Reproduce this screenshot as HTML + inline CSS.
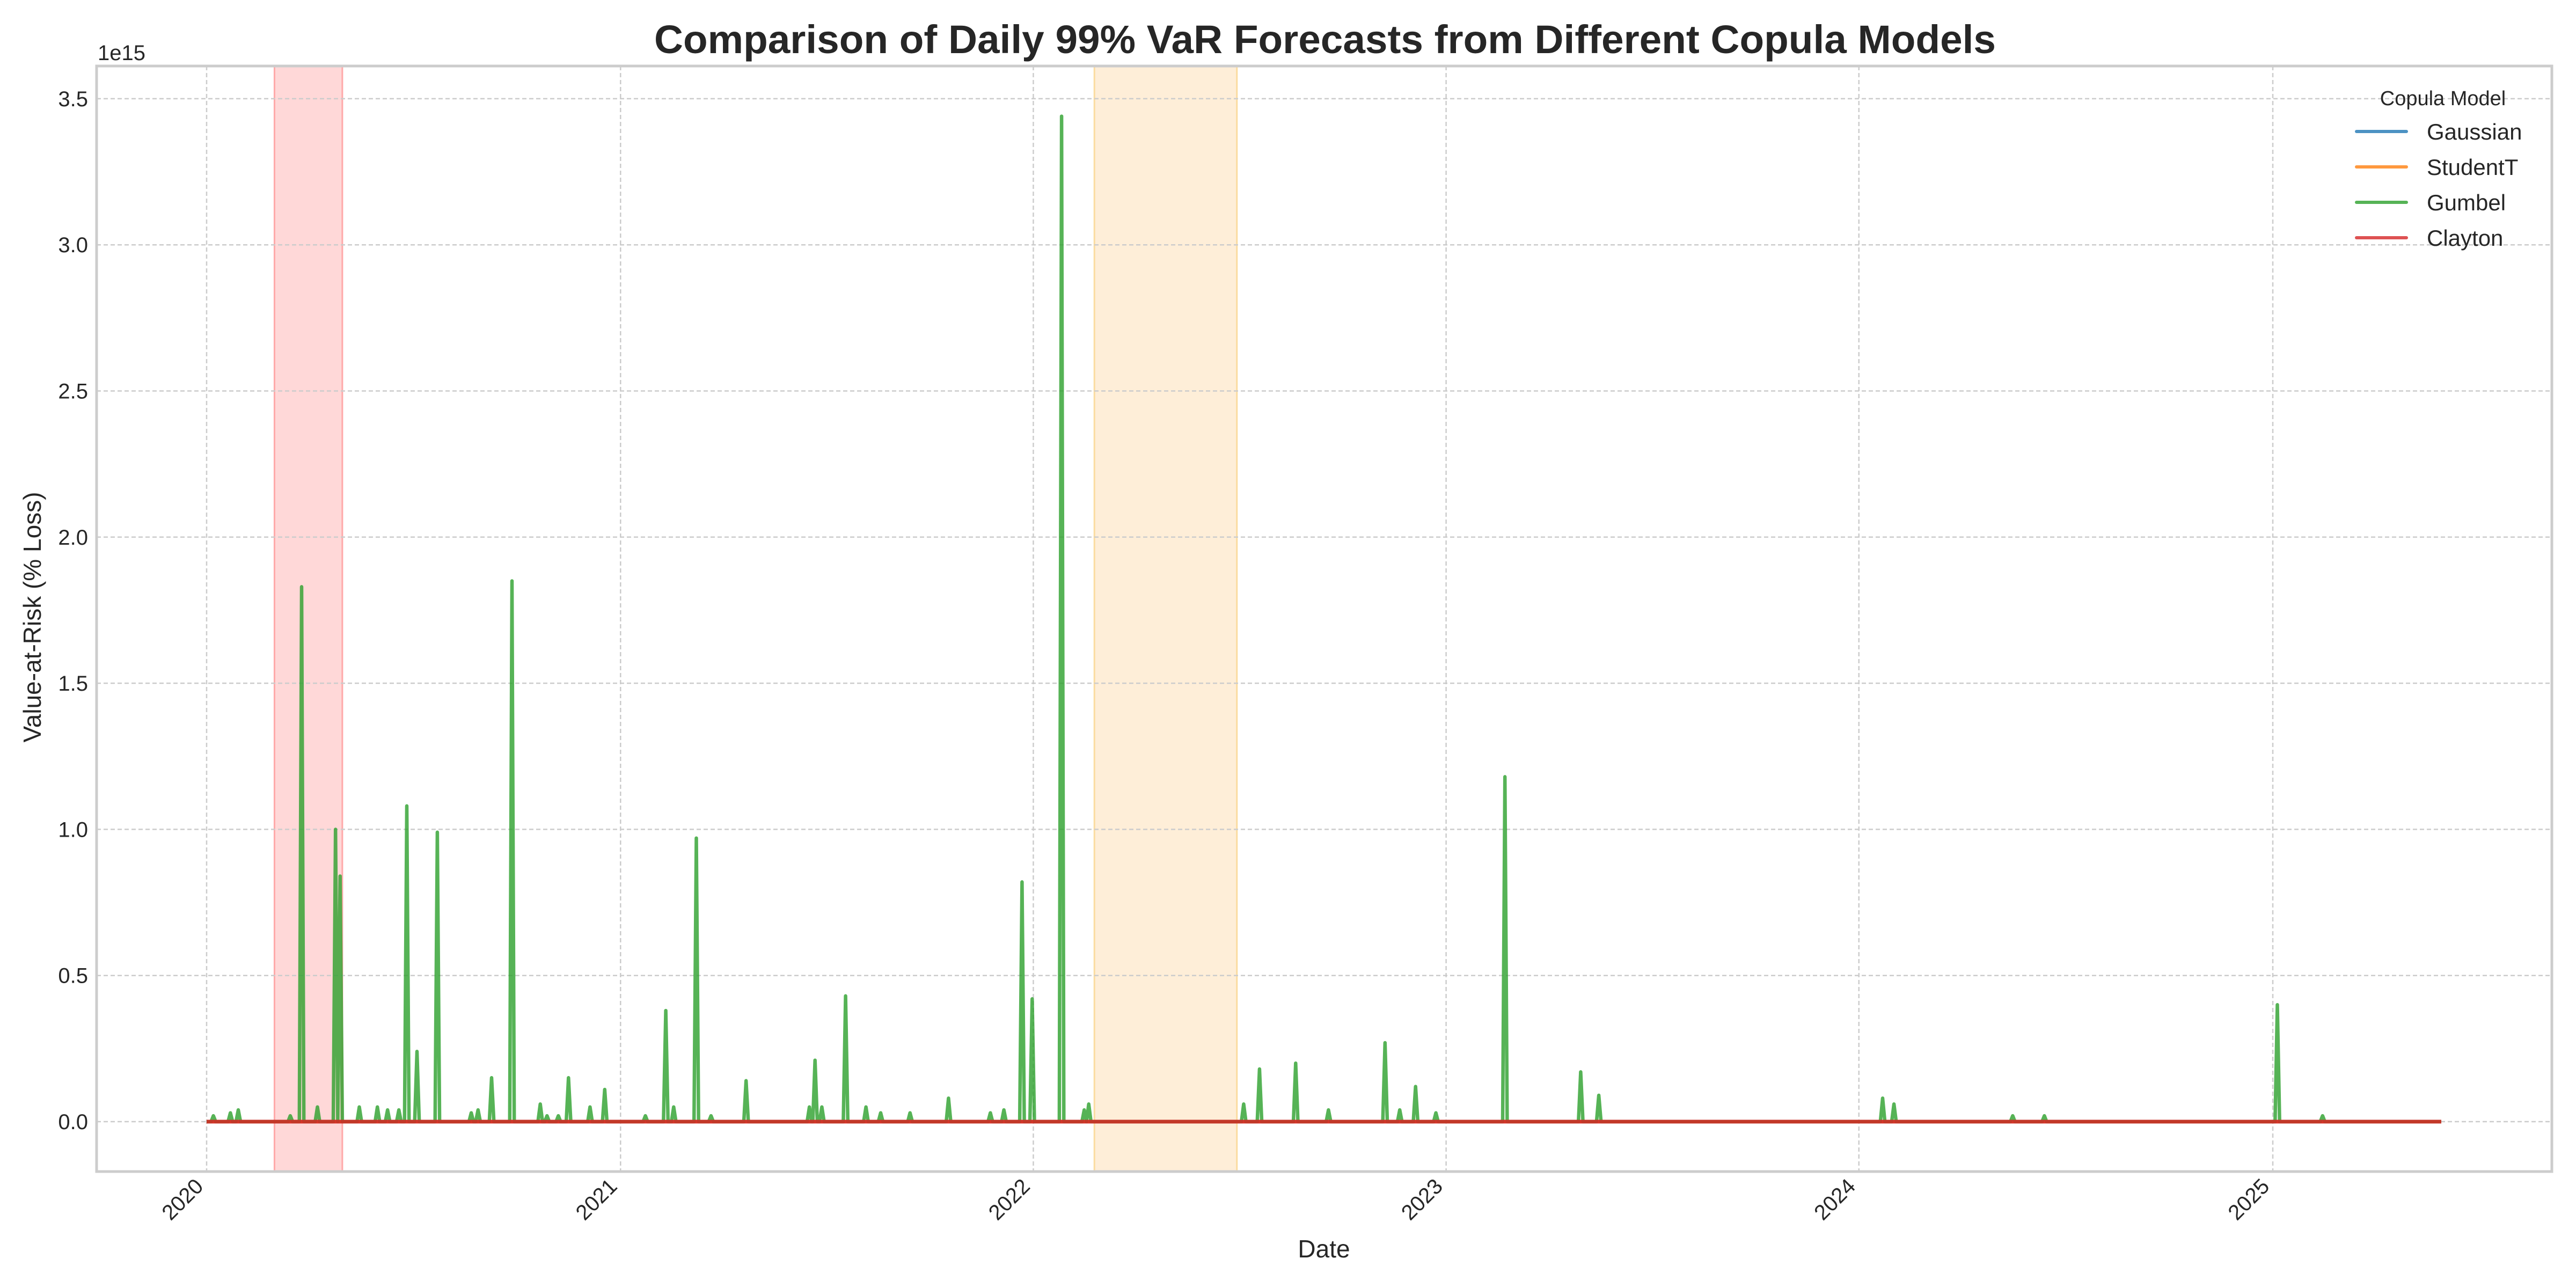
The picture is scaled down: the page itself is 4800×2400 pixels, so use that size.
<!DOCTYPE html>
<html><head><meta charset="utf-8">
<style>
html,body{margin:0;padding:0;background:#fff;}
svg{display:block;font-family:"Liberation Sans",Arial,sans-serif;}
</style></head>
<body>
<svg id="chart" xmlns="http://www.w3.org/2000/svg" width="4800" height="2400" viewBox="0 0 4800 2400">
<rect x="0" y="0" width="4800" height="2400" fill="#fff"/>
<text x="2469" y="99" text-anchor="middle" font-size="74" font-weight="bold" fill="#262626" textLength="2500" lengthAdjust="spacingAndGlyphs">Comparison of Daily 99% VaR Forecasts from Different Copula Models</text>
<g id="bands"></g>
<g id="grid"></g>
<g id="series"></g>
<g id="axes"></g>
<g id="legend"></g>
</svg>
<script>
// ---- data ----
const startDate = '2020-01-01';
const xTickYears = [2020, 2021, 2022, 2023, 2024, 2025];
const yTicks = [0.0, 0.5, 1.0, 1.5, 2.0, 2.5, 3.0, 3.5];
const yTickLabels = ['0.0','0.5','1.0','1.5','2.0','2.5','3.0','3.5'];
// Gumbel spikes: day offsets from start and values (x1e15)
const gumbelDays = [6,21,28,74,84,98,114,118,135,151,160,170,177,186,204,234,240,252,270,295,301,311,320,339,352,388,406,413,433,446,477,533,538,544,565,583,596,622,656,693,705,721,730,756,776,780,917,931,963,992,1042,1055,1069,1087,1148,1215,1231,1482,1492,1597,1625,1831,1871];
const gumbelValues = [0.02,0.03,0.04,0.02,1.83,0.05,1.00,0.84,0.05,0.05,0.04,0.04,1.08,0.24,0.99,0.03,0.04,0.15,1.85,0.06,0.02,0.02,0.15,0.05,0.11,0.02,0.38,0.05,0.97,0.02,0.14,0.05,0.21,0.05,0.43,0.05,0.03,0.03,0.08,0.03,0.04,0.82,0.42,3.44,0.04,0.06,0.06,0.18,0.20,0.04,0.27,0.04,0.12,0.03,1.18,0.17,0.09,0.08,0.06,0.02,0.02,0.40,0.02];
const seriesEndDay = 1976;
const flatDays = [0, 1976];
const gaussianValues = [0, 0];
const studentTValues = [0, 0];
const claytonValues = [0, 0];
const bandStartDays = [60, 785];
const bandEndDays = [120, 911];
const seriesNames = ['Gaussian','StudentT','Gumbel','Clayton'];

// ---- scales ----
const L = 180, R = 4755, T = 123, B = 2183;
const X0 = 385, PXD = 2.1073;
const Y0 = 2090, PXV = 544.6;
const NS = 'http://www.w3.org/2000/svg';
function xScale(day){ return X0 + day * PXD; }
function yScale(v){ return Y0 - v * PXV; }
function dayOfYear(y){ return (Date.UTC(y,0,1) - Date.UTC(2020,0,1)) / 86400000; }
function mk(tag, attrs, parent){ const e = document.createElementNS(NS, tag); for (const k in attrs) e.setAttribute(k, attrs[k]); parent.appendChild(e); return e; }

const bands = document.getElementById('bands');
const bandFill = ['#ff9999','#fdd49e'];
const bandStroke = ['#ffaaaa','#fbdca0'];
const bandNames = ['covid-crash-band','war-shock-band'];
for (let i = 0; i < bandStartDays.length; i++) {
  const r = mk('rect', {x: xScale(bandStartDays[i]), y: T, width: xScale(bandEndDays[i]) - xScale(bandStartDays[i]), height: B - T, fill: bandFill[i], 'fill-opacity': i === 0 ? 0.38 : 0.4, stroke: bandStroke[i], 'stroke-width': 3}, bands);
  
  
}

const grid = document.getElementById('grid');
xTickYears.forEach(y => {
  const x = xScale(dayOfYear(y));
  const l = mk('line', {x1: x, x2: x, y1: T, y2: B, stroke: '#cccccc', 'stroke-width': 2.5, 'stroke-dasharray': '8,5'}, grid);
  
  
});
yTicks.forEach(v => {
  const y = yScale(v);
  const l = mk('line', {x1: L, x2: R, y1: y, y2: y, stroke: '#cccccc', 'stroke-width': 2.5, 'stroke-dasharray': '8,5'}, grid);
  
  
});

const series = document.getElementById('series');
function flatPath(days, vals){ return days.map((d,i)=>(i?'L':'M')+xScale(d).toFixed(1)+','+yScale(vals[i]).toFixed(1)).join(' '); }
const g1 = mk('path', {d: flatPath(flatDays, gaussianValues), fill: 'none', stroke: '#1f77b4', 'stroke-width': 6, 'stroke-opacity': 0.85}, series);


const g2 = mk('path', {d: flatPath(flatDays, studentTValues), fill: 'none', stroke: '#ff7f0e', 'stroke-width': 6, 'stroke-opacity': 0.85}, series);


// gumbel
let pts = [[0,0]];
for (let i = 0; i < gumbelDays.length; i++) {
  const d = gumbelDays[i];
  pts.push([d - 2, 0]); pts.push([d, gumbelValues[i]]); pts.push([d + 2, 0]);
}
pts.push([seriesEndDay, 0]);
const gd = pts.map((p,i)=>(i?'L':'M')+xScale(p[0]).toFixed(1)+','+yScale(p[1]).toFixed(1)).join(' ');
const g3 = mk('path', {d: gd, fill: 'none', stroke: '#2ca02c', 'stroke-width': 6.5, 'stroke-opacity': 0.8, 'stroke-linejoin': 'round'}, series);


const g4 = mk('path', {d: flatPath(flatDays, claytonValues), fill: 'none', stroke: '#d62728', 'stroke-width': 7, 'stroke-opacity': 0.85}, series);



const axes = document.getElementById('axes');
const frame = mk('rect', {x: L, y: T, width: R - L, height: B - T, fill: 'none', stroke: '#cccccc', 'stroke-width': 5}, axes);


yTicks.forEach((v,i) => {
  const t = mk('text', {x: 164, y: yScale(v) + 14, 'text-anchor': 'end', 'font-size': 40, fill: '#262626'}, axes);
  t.textContent = yTickLabels[i];
  
  
});
xTickYears.forEach(y => {
  const x = xScale(dayOfYear(y)) - 4;
  const yy = B + 30;
  const t = mk('text', {x: x, y: yy, 'text-anchor': 'end', 'font-size': 40, fill: '#262626', transform: 'rotate(-45 ' + x + ' ' + yy + ')'}, axes);
  t.textContent = String(y);
  
  
});
const off = mk('text', {x: 182, y: 112, 'font-size': 40, fill: '#262626'}, axes);
off.textContent = '1e15';


const xl = mk('text', {x: 2467, y: 2343, 'text-anchor': 'middle', 'font-size': 46, fill: '#262626'}, axes);
xl.textContent = 'Date';


const yl = mk('text', {x: 0, y: 0, 'text-anchor': 'middle', 'font-size': 46, fill: '#262626', transform: 'translate(76 1150) rotate(-90)'}, axes);
yl.textContent = 'Value-at-Risk (% Loss)';



const legend = document.getElementById('legend');
const lt = mk('text', {x: 4552, y: 196, 'text-anchor': 'middle', 'font-size': 38, fill: '#262626'}, legend);
lt.textContent = 'Copula Model';


const legColors = ['#1f77b4','#ff7f0e','#2ca02c','#d62728'];
seriesNames.forEach((n,i) => {
  const y = 245 + i * 66;
  const l = mk('line', {x1: 4391, x2: 4484, y1: y, y2: y, stroke: legColors[i], 'stroke-width': 6, 'stroke-opacity': 0.8, 'stroke-linecap': 'round'}, legend);
  
  
  const t = mk('text', {x: 4522, y: y + 15, 'font-size': 42, fill: '#262626'}, legend);
  t.textContent = n;
  
  
});
</script>
</body></html>
